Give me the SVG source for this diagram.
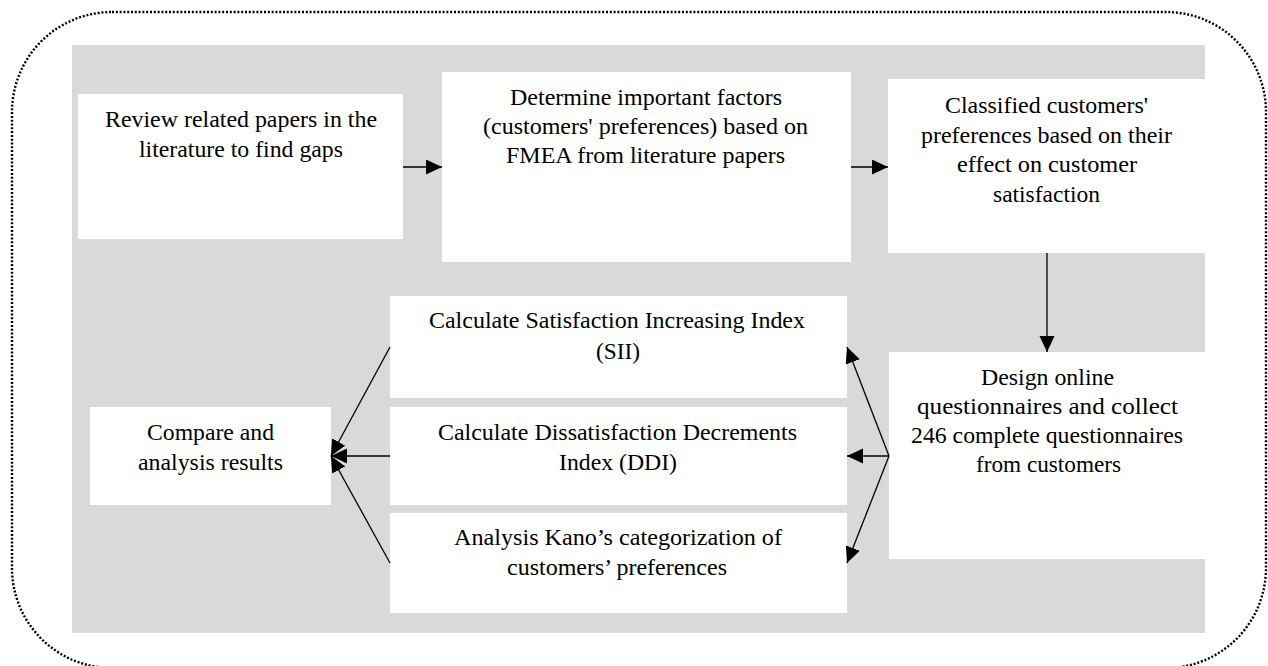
<svg xmlns="http://www.w3.org/2000/svg" width="1268" height="666" viewBox="0 0 1268 666">
<defs>
<style>
.box{fill:#ffffff;stroke:none}
.t{font-family:"Liberation Serif","Times New Roman",serif;font-size:24px;fill:#000}
.c{stroke:#000;stroke-width:1.3;fill:none}
</style>
<marker id="ah" markerUnits="userSpaceOnUse" markerWidth="17" markerHeight="16" refX="16" refY="7.5" orient="auto">
<path d="M0,0 L16,7.5 L0,15 z" fill="#000"/>
</marker>
</defs>
<rect x="0" y="0" width="1268" height="666" fill="#ffffff"/>
<rect id="frame" x="12" y="12" width="1254" height="656" rx="100" ry="100" fill="none" stroke="#000" stroke-width="2.4" stroke-dasharray="2 1.8"/>
<rect id="panel" x="72" y="45" width="1133" height="588" fill="#d9d9d9"/>

<g id="n1">
<rect class="box" x="78" y="94" width="325" height="145"/>
<text class="t" x="105" y="127" textLength="272" lengthAdjust="spacingAndGlyphs">Review related papers in the</text>
<text class="t" x="139" y="157" textLength="204" lengthAdjust="spacingAndGlyphs">literature to find gaps</text>
</g>

<g id="n2">
<rect class="box" x="442" y="72" width="409" height="190"/>
<text class="t" x="510" y="105" textLength="272" lengthAdjust="spacingAndGlyphs">Determine important factors</text>
<text class="t" x="483" y="134" textLength="325" lengthAdjust="spacingAndGlyphs">(customers' preferences) based on</text>
<text class="t" x="506" y="163" textLength="279" lengthAdjust="spacingAndGlyphs">FMEA from literature papers</text>
</g>

<g id="n3">
<rect class="box" x="888" y="79" width="317" height="174"/>
<text class="t" x="945" y="113" textLength="203" lengthAdjust="spacingAndGlyphs">Classified customers'</text>
<text class="t" x="921" y="143" textLength="251" lengthAdjust="spacingAndGlyphs">preferences based on their</text>
<text class="t" x="957" y="172" textLength="180" lengthAdjust="spacingAndGlyphs">effect on customer</text>
<text class="t" x="993" y="202" textLength="107" lengthAdjust="spacingAndGlyphs">satisfaction</text>
</g>

<g id="n4">
<rect class="box" x="889" y="352" width="316" height="207"/>
<text class="t" x="981" y="385" textLength="133" lengthAdjust="spacingAndGlyphs">Design online</text>
<text class="t" x="917" y="414" textLength="261" lengthAdjust="spacingAndGlyphs">questionnaires and collect</text>
<text class="t" x="911" y="443" textLength="272" lengthAdjust="spacingAndGlyphs">246 complete questionnaires</text>
<text class="t" x="976" y="472" textLength="145" lengthAdjust="spacingAndGlyphs">from customers</text>
</g>

<g id="n5">
<rect class="box" x="390" y="296" width="457" height="102"/>
<text class="t" x="429" y="328" textLength="376" lengthAdjust="spacingAndGlyphs">Calculate Satisfaction Increasing Index</text>
<text class="t" x="596" y="359" textLength="44" lengthAdjust="spacingAndGlyphs">(SII)</text>
</g>

<g id="n6">
<rect class="box" x="390" y="407" width="457" height="98"/>
<text class="t" x="438" y="440" textLength="359" lengthAdjust="spacingAndGlyphs">Calculate Dissatisfaction Decrements</text>
<text class="t" x="559" y="470" textLength="118" lengthAdjust="spacingAndGlyphs">Index (DDI)</text>
</g>

<g id="n7">
<rect class="box" x="390" y="513" width="457" height="100"/>
<text class="t" x="454" y="545" textLength="328" lengthAdjust="spacingAndGlyphs">Analysis Kano’s categorization of</text>
<text class="t" x="507" y="575" textLength="220" lengthAdjust="spacingAndGlyphs">customers’ preferences</text>
</g>

<g id="n8">
<rect class="box" x="90" y="407" width="241" height="98"/>
<text class="t" x="147" y="440" textLength="127" lengthAdjust="spacingAndGlyphs">Compare and</text>
<text class="t" x="138" y="470" textLength="145" lengthAdjust="spacingAndGlyphs">analysis results</text>
</g>

<g id="connectors">
<line class="c" x1="403" y1="167" x2="442" y2="167" marker-end="url(#ah)"/>
<line class="c" x1="851" y1="167" x2="888" y2="167" marker-end="url(#ah)"/>
<line class="c" x1="1047" y1="253" x2="1047" y2="352" marker-end="url(#ah)"/>
<line class="c" x1="889" y1="456" x2="847" y2="347" marker-end="url(#ah)"/>
<line class="c" x1="889" y1="456" x2="847" y2="456" marker-end="url(#ah)"/>
<line class="c" x1="889" y1="456" x2="847" y2="563" marker-end="url(#ah)"/>
<line class="c" x1="390" y1="347" x2="331" y2="456" marker-end="url(#ah)"/>
<line class="c" x1="390" y1="456" x2="331" y2="456" marker-end="url(#ah)"/>
<line class="c" x1="390" y1="563" x2="331" y2="456" marker-end="url(#ah)"/>
</g>
</svg>
